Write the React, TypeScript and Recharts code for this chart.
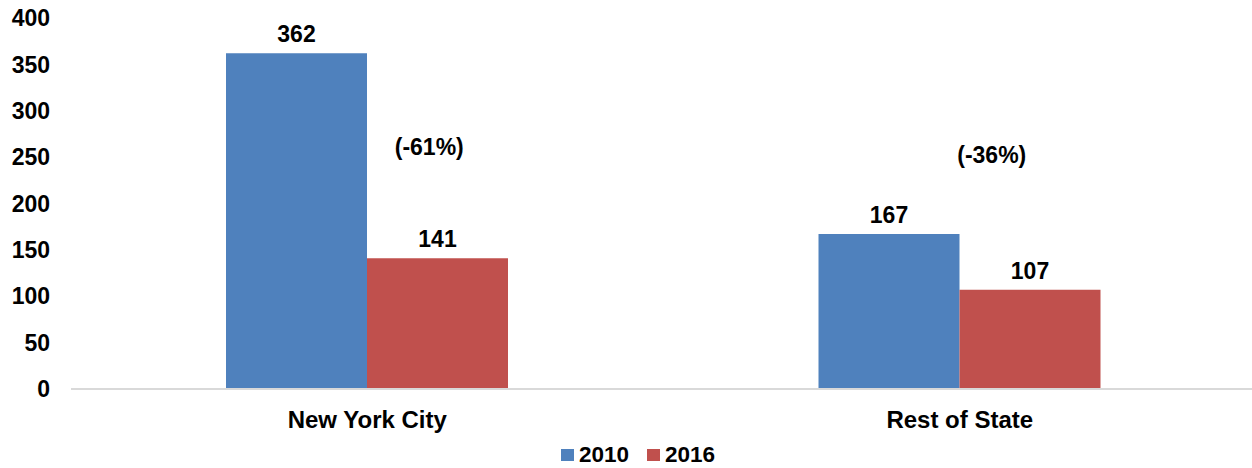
import { BarChart, Bar, XAxis, YAxis, Legend, LabelList, ReferenceDot } from 'recharts'

const categories = ['New York City', 'Rest of State']
const values2010 = [362, 167]
const values2016 = [141, 107]
const changeLabels = ['(-61%)', '(-36%)']
const changeLevels = [261, 252]
const yTicks = [0, 50, 100, 150, 200, 250, 300, 350, 400]

const FONT = '"Liberation Sans", Arial, sans-serif'
const BLUE = '#4F81BD'
const RED = '#C0504D'

const data = categories.map((name, i) => ({
  name,
  y2010: values2010[i],
  y2016: values2016[i],
}))

// hand placed text boxes in the original, nudged right of the category centre
const changeShift = [62, 32]

function LegendBox() {
  const item = (color: string, label: string, gap: number) => (
    <div style={{ display: 'flex', alignItems: 'center', marginRight: gap }}>
      <div style={{ width: 13, height: 12, background: color, marginRight: 5 }} />
      <span>{label}</span>
    </div>
  )
  return (
    <div
      style={{
        display: 'flex',
        alignItems: 'center',
        height: 26,
        fontFamily: FONT,
        fontWeight: 'bold',
        fontSize: 22.5,
        color: '#000',
      }}
    >
      {item(BLUE, '2010', 18)}
      {item(RED, '2016', 0)}
    </div>
  )
}

export default function App() {
  const tickStyle = { fill: '#000', fontSize: 23, fontWeight: 'bold', fontFamily: FONT }
  const catStyle = { ...tickStyle, fontSize: 24 }
  const labelStyle = { fill: '#000', fontSize: 23, fontWeight: 'bold', fontFamily: FONT }
  return (
    <div
      style={{
        position: 'absolute',
        left: 0,
        top: 0,
        width: 1252,
        height: 468,
        overflow: 'hidden',
        background: '#fff',
      }}
    >
      <BarChart
        width={1256}
        height={468}
        data={data}
        margin={{ top: 18, right: 0, bottom: 0, left: 0 }}
        barGap={0}
      >
        <XAxis
          dataKey="name"
          axisLine={{ stroke: '#d9d9d9', strokeWidth: 2 }}
          tickLine={false}
          tickSize={0}
          tickMargin={22}
          height={53}
          tick={catStyle}
        />
        <YAxis
          domain={[0, 400]}
          ticks={yTicks}
          axisLine={false}
          tickLine={false}
          tickSize={0}
          tickMargin={21}
          width={71}
          tick={tickStyle}
        />
        <Legend
          verticalAlign="bottom"
          height={26}
          wrapperStyle={{ left: 561 }}
          content={() => <LegendBox />}
        />
        <Bar dataKey="y2010" name="2010" fill={BLUE} barSize={141} isAnimationActive={false}>
          <LabelList dataKey="y2010" position="top" offset={11} style={labelStyle} />
        </Bar>
        <Bar dataKey="y2016" name="2016" fill={RED} barSize={141} isAnimationActive={false}>
          <LabelList dataKey="y2016" position="top" offset={11} style={labelStyle} />
        </Bar>
        {categories.map((c, i) => (
          <ReferenceDot
            key={c}
            x={c}
            y={changeLevels[i]}
            r={0}
            shape={(p: any) => (
              <text
                x={p.cx + changeShift[i]}
                y={p.cy}
                dy="0.35em"
                textAnchor="middle"
                fill="#000"
                fontSize={23}
                fontWeight="bold"
                fontFamily={FONT}
              >
                {changeLabels[i]}
              </text>
            )}
          />
        ))}
      </BarChart>
    </div>
  )
}
